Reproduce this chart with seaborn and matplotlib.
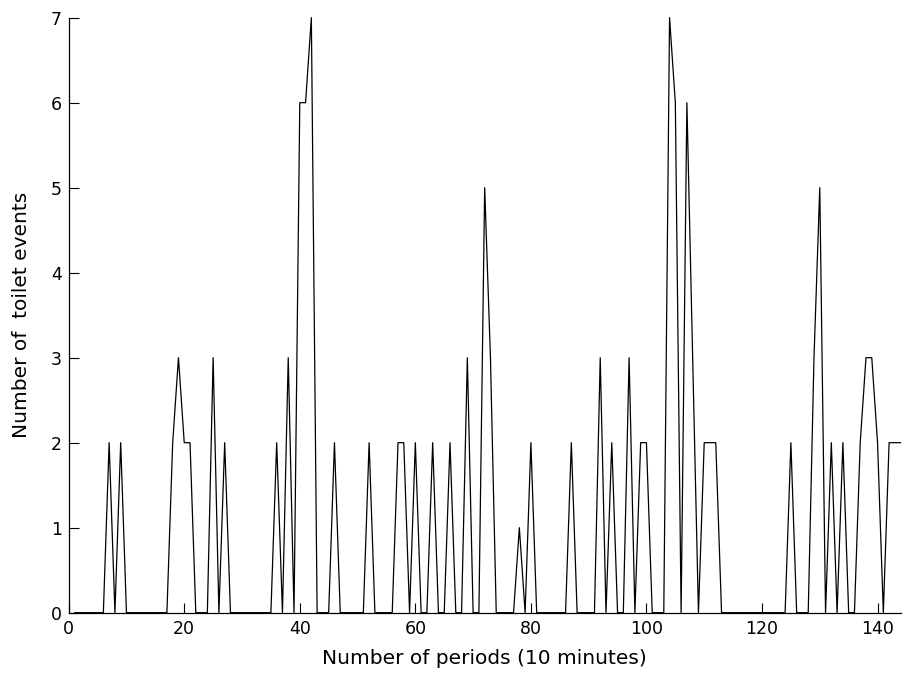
import matplotlib
matplotlib.use('Agg')
import matplotlib.pyplot as plt
import seaborn as sns
import pandas as pd

# toilet events per 10-minute period over one day (144 periods)
periods = list(range(1, 145))
events = [
    0, 0, 0, 0, 0, 0, 2, 0, 2, 0,        # 1-10
    0, 0, 0, 0, 0, 0, 0, 2, 3, 2,        # 11-20
    2, 0, 0, 0, 3, 0, 2, 0, 0, 0,        # 21-30
    0, 0, 0, 0, 0, 2, 0, 3, 0, 6,        # 31-40
    6, 7, 0, 0, 0, 2, 0, 0, 0, 0,        # 41-50
    0, 2, 0, 0, 0, 0, 2, 2, 0, 2,        # 51-60
    0, 0, 2, 0, 0, 2, 0, 0, 3, 0,        # 61-70
    0, 5, 3, 0, 0, 0, 0, 1, 0, 2,        # 71-80
    0, 0, 0, 0, 0, 0, 2, 0, 0, 0,        # 81-90
    0, 3, 0, 2, 0, 0, 3, 0, 2, 2,        # 91-100
    0, 0, 0, 7, 6, 0, 6, 3, 0, 2,        # 101-110
    2, 2, 0, 0, 0, 0, 0, 0, 0, 0,        # 111-120
    0, 0, 0, 0, 2, 0, 0, 0, 3, 5,        # 121-130
    0, 2, 0, 2, 0, 0, 2, 3, 3, 2,        # 131-140
    0, 2, 2, 2,                          # 141-144
]
x_ticks = [0, 20, 40, 60, 80, 100, 120, 140]
y_ticks = [0, 1, 2, 3, 4, 5, 6, 7]

df = pd.DataFrame({'period': periods, 'events': events})

sns.set_style('ticks')
plt.rcParams['font.family'] = ['DejaVu Sans']
plt.rcParams['xtick.direction'] = 'in'
plt.rcParams['ytick.direction'] = 'in'
plt.rcParams['text.color'] = 'black'
plt.rcParams['axes.labelcolor'] = 'black'
plt.rcParams['xtick.color'] = 'black'
plt.rcParams['ytick.color'] = 'black'

fig = plt.figure(figsize=(9.05, 6.86), dpi=100)
ax = fig.add_axes([0.0759, 0.1069, 0.9193, 0.8673])

sns.lineplot(data=df, x='period', y='events', color='black', linewidth=0.9,
             ax=ax, clip_on=False, zorder=1)

ax.set_xlim(0, 144)
ax.set_ylim(0, 7)
ax.set_xticks(x_ticks)
ax.set_yticks(y_ticks)
ax.tick_params(axis='both', length=7, width=0.8, colors='black', labelsize=12.5, pad=5)
for side in ['top', 'right']:
    ax.spines[side].set_visible(False)
for side in ['left', 'bottom']:
    ax.spines[side].set_color('black')
    ax.spines[side].set_linewidth(0.9)
    ax.spines[side].set_zorder(3)

ax.set_xlabel('Number of periods (10 minutes)', fontsize=14.5, labelpad=8)
ax.set_ylabel('Number of  toilet events', fontsize=14.5, labelpad=14)

fig.savefig('out.png', dpi=100, facecolor='white')
plt.close(fig)
